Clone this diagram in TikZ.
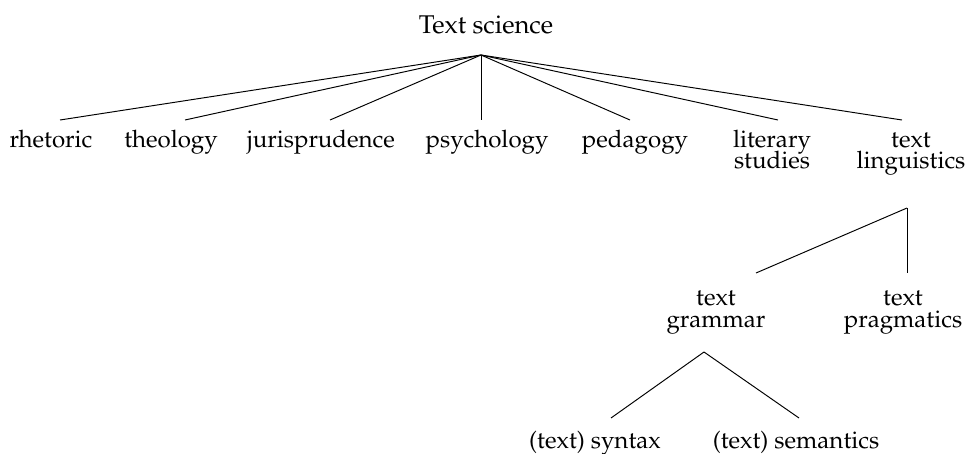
\documentclass[tikz,border=0pt]{standalone}
\usepackage[T1]{fontenc}
\usepackage{mathpazo}
\newcommand{\leaffont}{\fontsize{13.7}{12.2}\selectfont\lineskiplimit=-20pt\relax}
\begin{document}
\begin{tikzpicture}[x=0.02cm, y=-0.02cm, line width=0.55pt,
  leaf/.style={anchor=base, align=center, inner sep=0pt, font=\leaffont}]
 \useasboundingbox (0,0) rectangle (970,453);
 % top of the tree
 \node[leaf, font=\fontsize{14.6}{13}\selectfont] (science) at (486, 33) {Text science};
 \coordinate (top) at (481, 55);

 % first row
 \node[leaf] (rhet) at (51, 147) {rhetoric};
 \node[leaf] (theo) at (171, 147) {theology};
 \node[leaf] (juris) at (321, 147) {jurisprudence};
 \node[leaf] (psych) at (487, 147) {psychology};
 \node[leaf] (peda) at (635, 147) {pedagogy};
 \node[leaf] (lit) at (772, 168.5) {literary\\studies};
 \node[leaf] (ling) at (911, 168.5) {text\\linguistics};

 % line ends above the first row
 \coordinate (rhet-t) at (60, 120);
 \coordinate (theo-t) at (185, 120);
 \coordinate (juris-t) at (330, 120);
 \coordinate (psych-t) at (481, 120);
 \coordinate (peda-t) at (630, 120);
 \coordinate (lit-t) at (778, 120);
 \coordinate (ling-t) at (902, 120);
 \foreach \n in {rhet, theo, juris, psych, peda, lit, ling}
  \draw (top) -- (\n-t);

 % text linguistics
 \coordinate (lingtop) at (907, 208);
 \node[leaf] (gram) at (716, 327) {text\\grammar};
 \node[leaf] (prag) at (903, 327) {text\\pragmatics};
 \coordinate (gram-t) at (756, 273);
 \coordinate (prag-t) at (907, 273);
 \draw (lingtop) -- (gram-t);
 \draw (lingtop) -- (prag-t);

 % text grammar
 \coordinate (gramtop) at (704, 352);
 \node[leaf] (syn) at (595, 448) {(text) syntax};
 \node[leaf] (sem) at (796, 448) {(text) semantics};
 \coordinate (syn-t) at (611, 418);
 \coordinate (sem-t) at (799, 418);
 \draw (gramtop) -- (syn-t);
 \draw (gramtop) -- (sem-t);
\end{tikzpicture}
\end{document}
